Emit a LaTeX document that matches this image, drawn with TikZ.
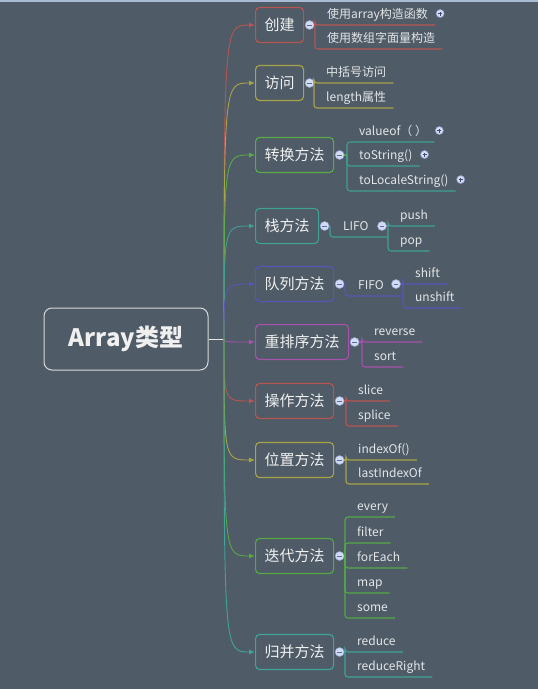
\documentclass[tikz,border=0pt]{standalone}
\usepackage{fontspec}
\setmainfont{Noto Sans CJK SC}
\usetikzlibrary{arrows.meta}
\definecolor{bg}{HTML}{4F5B66}
\definecolor{topln}{HTML}{A9BCD6}
\definecolor{txt}{HTML}{F0F0F0}
\definecolor{txtb}{HTML}{E4E6E8}
\definecolor{knob}{HTML}{D2DCF4}
\definecolor{knobedge}{HTML}{93A3D2}
\definecolor{knobmark}{HTML}{5A6A9A}
\definecolor{cA}{HTML}{B65552}
\definecolor{cB}{HTML}{A9A449}
\definecolor{cC}{HTML}{5BAA4B}
\definecolor{cD}{HTML}{3FA093}
\definecolor{cE}{HTML}{5A55B6}
\definecolor{cF}{HTML}{A652AE}
\definecolor{cG}{HTML}{B65552}
\definecolor{cH}{HTML}{A9A449}
\definecolor{cI}{HTML}{55AA46}
\definecolor{cJ}{HTML}{40A49A}
\tikzset{
  rootbox/.style={draw=white!85!black, line width=1pt, rounded corners=8pt,
    minimum width=164pt, minimum height=62pt, text=txt, inner sep=0pt,
    font=\fontsize{24}{28}\selectfont\bfseries},
  rootline/.style={draw=white!90!black, line width=1pt},
  topic/.style={draw=#1, line width=1.1pt, rounded corners=4pt, text=txt,
    font=\fontsize{15}{18}\selectfont, minimum height=35pt, inner xsep=9pt,
    inner ysep=0pt, anchor=west},
  branch/.style={draw=#1, line width=0.9pt, -{Latex[length=6pt,width=5pt]}},
  kid/.style={text=txtb, font=\fontsize{12}{14}\selectfont, inner sep=0pt, anchor=base west},
  uline/.style={draw=#1, line width=1.1pt, rounded corners=3pt},
  stub/.style={draw=#1, line width=1.1pt},
  knobminus/.style={circle, minimum size=9pt, inner sep=0pt, fill=knob, draw=knobedge,
    line width=0.5pt, path picture={\draw[line width=0.9pt, knobmark]
      ([xshift=-2.3pt]path picture bounding box.center) --
      ([xshift=2.3pt]path picture bounding box.center);}},
  knobplus/.style={circle, minimum size=8pt, inner sep=0pt, fill=knob, draw=knobedge,
    line width=0.5pt, path picture={\draw[line width=0.9pt, knobmark!70!black]
      ([xshift=-2pt]path picture bounding box.center) --
      ([xshift=2pt]path picture bounding box.center)
      ([yshift=-2pt]path picture bounding box.center) --
      ([yshift=2pt]path picture bounding box.center);}},
}
% #1 name, #2 colour, #3 source node, #4 x of vertical, #5 y of underline, #6 text
\newcommand\kidnode[6]{%
  \node[kid] (#1) at (#4+12,#5-6.5) {#6};
  \draw[uline=#2] (#4,0 |- #3.center) |- ([xshift=7pt,yshift=-6.5pt]#1.base east);
}
\newcommand\kidplus[1]{%
  \node[knobplus] (#1p) at ([xshift=12pt,yshift=5pt]#1.base east) {};
}
\begin{document}
\begin{tikzpicture}[x=1pt,y=-1pt]
\useasboundingbox (0,0) rectangle (538,689);
\fill[bg] (0,0) rectangle (538,689);
\fill[topln] (0,0) rectangle (538,1.6);

% root
\node[rootbox] (root) at (126,339) {Array类型};
\coordinate (spine) at (224,339);
\draw[rootline] (root.east) -- (spine);

% main topics
\node[topic=cA] (t1) at (255,25) {创建};
\node[topic=cB] (t2) at (255,83) {访问};
\node[topic=cC] (t3) at (255,155) {转换方法};
\node[topic=cD] (t4) at (255,226) {栈方法};
\node[topic=cE] (t5) at (255,284) {队列方法};
\node[topic=cF] (t6) at (255,342) {重排序方法};
\node[topic=cG] (t7) at (255,401) {操作方法};
\node[topic=cH] (t8) at (255,460) {位置方法};
\node[topic=cI] (t9) at (255,556) {迭代方法};
\node[topic=cJ] (t10) at (255,652) {归并方法};

% branches
\foreach \t/\c in {t1/cA,t2/cB,t3/cC,t4/cD,t5/cE,t6/cF,t7/cG,t8/cH,t9/cI,t10/cJ}{
  \draw[branch=\c] (spine) .. controls (224,0 |- \t.west) .. (\t.west);
}

% collapse knobs
\foreach \t in {t1,t2,t3,t4,t5,t6,t7,t8,t9,t10}{
  \node[knobminus] (\t c) at ([xshift=5.5pt]\t.east) {};
}

% 创建
\draw[stub=cA] (t1c.east) -- (315,0 |- t1c.center);
\kidnode{k11}{cA}{t1c}{315}{25}{使用array构造函数}
\kidplus{k11}
\kidnode{k12}{cA}{t1c}{315}{49}{使用数组字面量构造}

% 访问
\draw[stub=cB] (t2c.east) -- (314,0 |- t2c.center);
\kidnode{k21}{cB}{t2c}{314}{83}{中括号访问}
\kidnode{k22}{cB}{t2c}{314}{108}{length属性}

% 转换方法
\draw[stub=cC] (t3c.east) -- (347,0 |- t3c.center);
\kidnode{k31}{cD}{t3c}{347}{142}{valueof（ ）}
\kidplus{k31}
\kidnode{k32}{cD}{t3c}{347}{166}{toString()}
\kidplus{k32}
\kidnode{k33}{cD}{t3c}{347}{191}{toLocaleString()}
\kidplus{k33}

% 栈方法
\draw[stub=cD] (t4c.east) -- (330,0 |- t4c.center);
\node[kid] (k41) at (343,230.5) {LIFO};
\draw[uline=cD] (330,0 |- t4c.center) |- (388,237);
\node[knobminus] (k41c) at (382,226) {};
\draw[stub=cD] (k41c.east) -- (388,0 |- k41c.center);
\kidnode{k411}{cD}{k41c}{388}{226}{push}
\kidnode{k412}{cD}{k41c}{388}{251}{pop}

% 队列方法
\draw[stub=cE] (t5c.east) -- (345,0 |- t5c.center);
\node[kid] (k51) at (358,289.5) {FIFO};
\draw[uline=cE] (345,0 |- t5c.center) |- (403,296);
\node[knobminus] (k51c) at (396,284) {};
\draw[stub=cE] (k51c.east) -- (403,0 |- k51c.center);
\kidnode{k511}{cE}{k51c}{403}{284}{shift}
\kidnode{k512}{cE}{k51c}{403}{308}{unshift}

% 重排序方法
\draw[stub=cF] (t6c.east) -- (362,0 |- t6c.center);
\kidnode{k61}{cF}{t6c}{362}{342}{reverse}
\kidnode{k62}{cF}{t6c}{362}{367}{sort}

% 操作方法
\draw[stub=cG] (t7c.east) -- (346,0 |- t7c.center);
\kidnode{k71}{cG}{t7c}{346}{401}{slice}
\kidnode{k72}{cG}{t7c}{346}{426}{splice}

% 位置方法
\draw[stub=cH] (t8c.east) -- (346,0 |- t8c.center);
\kidnode{k81}{cH}{t8c}{346}{460}{indexOf()}
\kidnode{k82}{cH}{t8c}{346}{484}{lastIndexOf}

% 迭代方法
\draw[stub=cI] (t9c.east) -- (345,0 |- t9c.center);
\kidnode{k91}{cI}{t9c}{345}{517}{every}
\kidnode{k92}{cI}{t9c}{345}{543}{filter}
\kidnode{k93}{cI}{t9c}{345}{568}{forEach}
\kidnode{k94}{cI}{t9c}{345}{593}{map}
\kidnode{k95}{cI}{t9c}{345}{618}{some}

% 归并方法
\draw[stub=cJ] (t10c.east) -- (345,0 |- t10c.center);
\kidnode{k101}{cJ}{t10c}{345}{652}{reduce}
\kidnode{k102}{cJ}{t10c}{345}{677}{reduceRight}
\end{tikzpicture}
\end{document}
